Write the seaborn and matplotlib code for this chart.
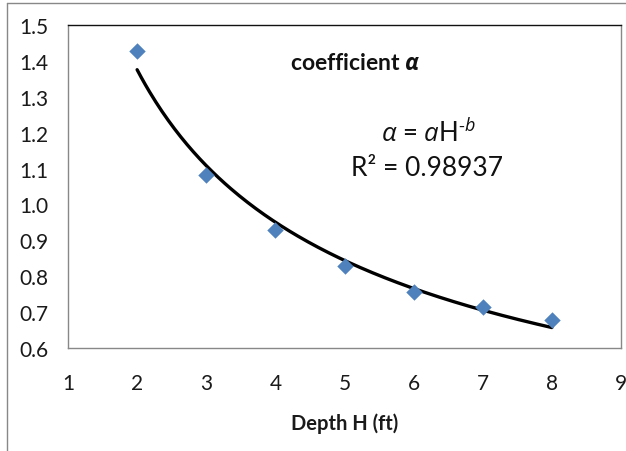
import numpy as np
import pandas as pd
import matplotlib
matplotlib.use("Agg")
import matplotlib.pyplot as plt
from matplotlib.lines import Line2D
import seaborn as sns

# ---- data ----
depth = [2, 3, 4, 5, 6, 7, 8]
alpha_vals = [1.427, 1.082, 0.929, 0.828, 0.755, 0.713, 0.679]
x_ticks = [1, 2, 3, 4, 5, 6, 7, 8, 9]
y_ticks = [0.6, 0.7, 0.8, 0.9, 1.0, 1.1, 1.2, 1.3, 1.4, 1.5]
title_text = "coefficient"
r2_text = "R\u00b2 = 0.98937"
x_label = "Depth H (ft)"

sns.set_theme(style="white")
plt.rcParams['font.family'] = ['Lato', 'DejaVu Sans']
plt.rcParams['mathtext.fontset'] = 'custom'
plt.rcParams['mathtext.rm'] = 'Open Sans'
plt.rcParams['mathtext.it'] = 'Open Sans:italic'
plt.rcParams['mathtext.bf'] = 'Open Sans:italic:bold'

df = pd.DataFrame({"H": depth, "alpha": alpha_vals})

# power-law trendline fitted from the data (log-log least squares)
slope, intercept = np.polyfit(np.log(df["H"]), np.log(df["alpha"]), 1)
hx = np.linspace(min(depth), max(depth), 200)
fit = pd.DataFrame({"H": hx, "alpha": np.exp(intercept) * hx ** slope})

fig = plt.figure(figsize=(6.26, 4.52), dpi=100)
ax = fig.add_axes([68/626, 1-349/452, (621-68)/626, (349-26)/452])

sns.lineplot(data=fit, x="H", y="alpha", ax=ax, color="black", linewidth=2.4)
sns.scatterplot(data=df, x="H", y="alpha", ax=ax, marker="D", s=70,
                color="#4F81BD", edgecolor="#4F81BD", linewidth=0, zorder=3)

ax.set_xlim(1, 9)
ax.set_ylim(0.6, 1.5)
ax.set_xticks(x_ticks)
ax.set_xticklabels([str(v) for v in x_ticks])
ax.set_yticks(y_ticks)
ax.set_yticklabels([f"{v:.1f}" for v in y_ticks])
ax.tick_params(axis='both', which='major', direction='out', length=4.3,
               width=1, color='#888888', labelsize=15, labelcolor='#1a1a1a')
ax.tick_params(axis='y', pad=10)
ax.tick_params(axis='x', pad=14)
ax.set_xlabel(x_label, fontsize=14.5, fontweight='bold', labelpad=14, color='#1a1a1a')
ax.set_ylabel("")

for s in ['left', 'bottom', 'right']:
    ax.spines[s].set_color('#888888')
    ax.spines[s].set_linewidth(1)
ax.spines['top'].set_color('#111111')
ax.spines['top'].set_linewidth(1)

ax.text(0.52, 0.885, title_text + r" $\mathbf{\alpha}$", transform=ax.transAxes,
        ha='center', va='center', fontsize=16.5, fontweight='bold', color='#111111')
ax.text(0.652, 0.67, "$\\alpha$ = $a$H$^{\u2010b}$", transform=ax.transAxes,
        ha='center', va='center', fontsize=18.5, color='#111111')
ax.text(0.65, 0.56, r2_text, transform=ax.transAxes,
        ha='center', va='center', fontsize=19, color='#111111')

# outer chart border (left and top edges visible)
fig.add_artist(Line2D([7/626, 7/626], [0, 1-4/452], transform=fig.transFigure,
                      color='#888888', linewidth=1))
fig.add_artist(Line2D([7/626, 1], [1-4/452, 1-4/452], transform=fig.transFigure,
                      color='#888888', linewidth=1))

fig.savefig("out.png", dpi=100)
